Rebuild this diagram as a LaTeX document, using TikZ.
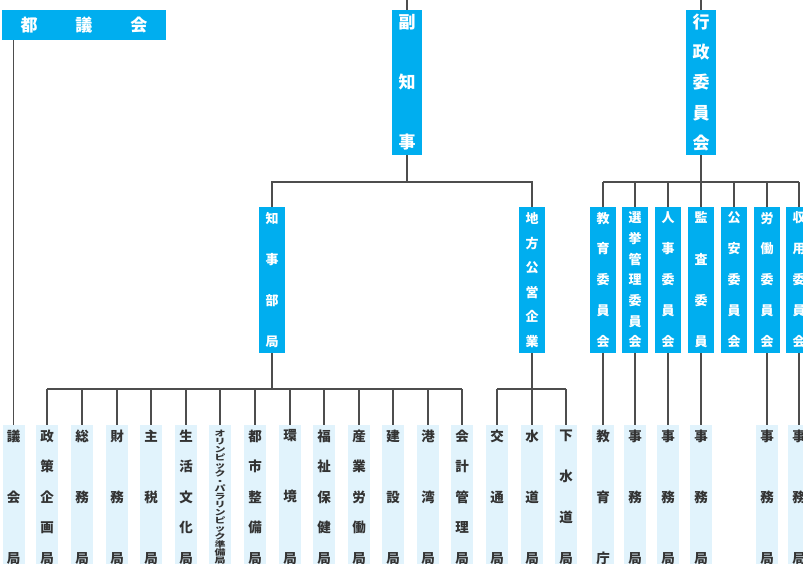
\documentclass[tikz,border=0pt]{standalone}
\usepackage{fontspec}
\setmainfont{Noto Sans CJK JP}
\usepackage{graphicx}
\definecolor{mblue}{HTML}{00AEEF}
\definecolor{lblue}{HTML}{E1F3FC}
\definecolor{lncol}{HTML}{4D4D4D}
\definecolor{txtcol}{HTML}{333333}
\newcommand\vcol[2]{\parbox[c][#1][s]{1em}{\centering #2}}
\newcommand\nx{\par\vfill}
\tikzset{
  topbox/.style={fill=mblue, text=white, inner sep=0pt, font=\bfseries\fontsize{17}{20}\selectfont},
  midbox/.style={fill=mblue, text=white, inner sep=0pt, minimum width=26pt, minimum height=146pt, font=\bfseries\fontsize{13}{15}\selectfont},
  botbox/.style={fill=lblue, text=txtcol, inner sep=0pt, minimum width=22pt, minimum height=144pt, font=\bfseries\fontsize{13.5}{16}\selectfont},
  olybox/.style={fill=lblue, text=txtcol, inner sep=0pt, minimum width=22pt, minimum height=144pt, font=\bfseries\fontsize{11}{11}\selectfont},
  conn/.style={draw=lncol, line width=1.3pt}
}
\begin{document}
\begin{tikzpicture}[x=1pt,y=-1pt]
\useasboundingbox (0,0) rectangle (803,563);
\clip (0,0) rectangle (803,563);
% top level
\node[topbox, minimum width=164pt, minimum height=30pt] (togikai) at (84,25) {都\hspace{38pt}議\hspace{38pt}会};
\node[topbox, minimum width=30pt, minimum height=145pt] (fuku) at (407,82.5) {\vcol{134pt}{副\nx 知\nx 事}};
\node[topbox, minimum width=30pt, minimum height=145pt] (gyosei) at (701,82.5) {\vcol{135pt}{行\nx 政\nx 委\nx 員\nx 会}};
% middle level
\node[midbox] (chiji) at (272,280) {\vcol{134pt}{知\nx 事\nx 部\nx 局}};
\node[midbox] (koei) at (532,280) {\vcol{134pt}{地\nx 方\nx 公\nx 営\nx 企\nx 業}};
\node[midbox] (c1) at (603,280) {\vcol{135pt}{教\nx 育\nx 委\nx 員\nx 会}};
\node[midbox] (c2) at (635,280) {\vcol{135pt}{選\nx 挙\nx 管\nx 理\nx 委\nx 員\nx 会}};
\node[midbox] (c3) at (668,280) {\vcol{135pt}{人\nx 事\nx 委\nx 員\nx 会}};
\node[midbox] (c4) at (701,280) {\vcol{135pt}{監\nx 査\nx 委\nx 員}};
\node[midbox] (c5) at (734,280) {\vcol{135pt}{公\nx 安\nx 委\nx 員\nx 会}};
\node[midbox] (c6) at (767,280) {\vcol{135pt}{労\nx 働\nx 委\nx 員\nx 会}};
\node[midbox] (c7) at (799,280) {\vcol{135pt}{収\nx 用\nx 委\nx 員\nx 会}};
% bottom level
\node[botbox] (b1) at (13.5,497) {\vcol{133.5pt}{議\nx 会\nx 局}};
\node[botbox] (b2) at (47,497) {\vcol{133.5pt}{政\nx 策\nx 企\nx 画\nx 局}};
\node[botbox] (b3) at (82,497) {\vcol{133.5pt}{総\nx 務\nx 局}};
\node[botbox] (b4) at (117,497) {\vcol{133.5pt}{財\nx 務\nx 局}};
\node[botbox] (b5) at (151,497) {\vcol{133.5pt}{主\nx 税\nx 局}};
\node[botbox] (b6) at (186,497) {\vcol{133.5pt}{生\nx 活\nx 文\nx 化\nx 局}};
\node[olybox] (b7) at (220,497) {\scalebox{1}[0.72]{\parbox{1em}{\centering オ\\リ\\ン\\ピ\\ッ\\ク\\・\\パ\\ラ\\リ\\ン\\ピ\\ッ\\ク\\準\\備\\局}}};
\node[botbox] (b8) at (255,497) {\vcol{133.5pt}{都\nx 市\nx 整\nx 備\nx 局}};
\node[botbox] (b9) at (290,497) {\vcol{133.5pt}{環\nx 境\nx 局}};
\node[botbox] (b10) at (324,497) {\vcol{133.5pt}{福\nx 祉\nx 保\nx 健\nx 局}};
\node[botbox] (b11) at (359,497) {\vcol{133.5pt}{産\nx 業\nx 労\nx 働\nx 局}};
\node[botbox] (b12) at (393,497) {\vcol{133.5pt}{建\nx 設\nx 局}};
\node[botbox] (b13) at (428,497) {\vcol{133.5pt}{港\nx 湾\nx 局}};
\node[botbox] (b14) at (462,497) {\vcol{133.5pt}{会\nx 計\nx 管\nx 理\nx 局}};
\node[botbox] (b15) at (497,497) {\vcol{133.5pt}{交\nx 通\nx 局}};
\node[botbox] (b16) at (532,497) {\vcol{133.5pt}{水\nx 道\nx 局}};
\node[botbox] (b17) at (566,497) {\vcol{133.5pt}{下\nx 水\nx 道\nx 局}};
\node[botbox] (b18) at (603,497) {\vcol{133.5pt}{教\nx 育\nx 庁}};
\node[botbox] (b19) at (635,497) {\vcol{133.5pt}{事\nx 務\nx 局}};
\node[botbox] (b20) at (668,497) {\vcol{133.5pt}{事\nx 務\nx 局}};
\node[botbox] (b21) at (701,497) {\vcol{133.5pt}{事\nx 務\nx 局}};
\node[botbox] (b22) at (767,497) {\vcol{133.5pt}{事\nx 務\nx 局}};
\node[botbox] (b23) at (799,497) {\vcol{133.5pt}{事\nx 務\nx 局}};
% connectors
\coordinate (t1) at (407,0);
\coordinate (t2) at (701,0);
\coordinate (j1) at (407,182);
\coordinate (j2) at (701,182);
\coordinate (j3) at (272,389);
\draw[conn] (t1) -- (fuku.north);
\draw[conn] (t2) -- (gyosei.north);
\draw[conn] (b1.north |- togikai.south) -- (b1.north);
\draw[conn] (fuku.south) -- (j1);
\draw[conn] (chiji.north) -- (chiji.north |- j1) -- (koei.north |- j1) -- (koei.north);
\draw[conn] (gyosei.south) -- (j2);
\draw[conn] (c1.north |- j2) -- (c7.north |- j2);
\foreach \n in {c1,c2,c3,c4,c5,c6,c7} \draw[conn] (\n.north |- j2) -- (\n.north);
\draw[conn] (chiji.south) -- (j3);
\draw[conn] (b2.north |- j3) -- (b14.north |- j3);
\foreach \i in {2,...,14} \draw[conn] (b\i.north |- j3) -- (b\i.north);
\draw[conn] (koei.south) -- (b16.north);
\draw[conn] (b15.north |- j3) -- (b17.north |- j3);
\draw[conn] (b15.north |- j3) -- (b15.north);
\draw[conn] (b17.north |- j3) -- (b17.north);
\draw[conn] (c1.south) -- (b18.north);
\draw[conn] (c2.south) -- (b19.north);
\draw[conn] (c3.south) -- (b20.north);
\draw[conn] (c4.south) -- (b21.north);
\draw[conn] (c6.south) -- (b22.north);
\draw[conn] (c7.south) -- (b23.north);
\end{tikzpicture}
\end{document}
